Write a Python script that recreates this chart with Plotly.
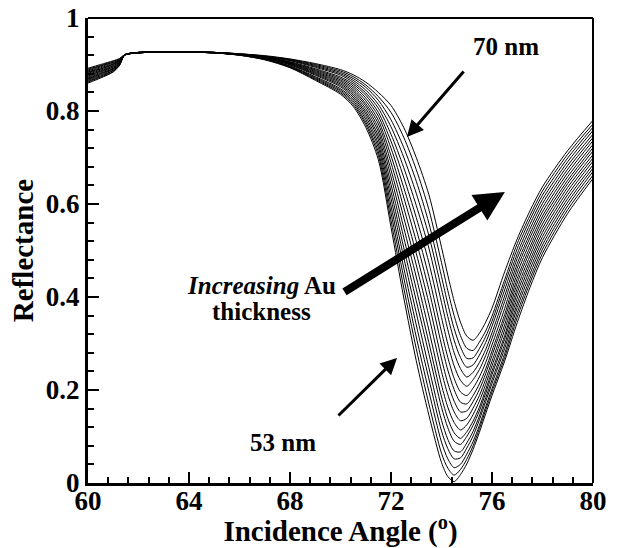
import plotly.graph_objects as go

# Incidence angles (deg) at which reflectance values were read
angles = [60, 60.5, 61, 61.25, 61.45, 62, 63.5, 65, 66, 67, 68, 69, 70, 70.5, 71, 71.5,
          72, 72.5, 73, 73.5, 74, 74.25, 74.5, 74.75, 75, 75.25, 75.5, 75.75, 76, 76.5,
          77, 77.5, 78, 79, 80]

# Au thickness (nm)
thickness = list(range(53, 71))

r53 = [.860, .871, .884, .898, .920, .925, .927, .925, .920, .910, .893, .866, .836, .810, .765, .695, .550, .400, .263,
       .146, .044, .014, .003, .018, .041, .072, .109, .149, .188, .262, .345, .420, .485, .580, .655]
r54 = [.862, .873, .885, .899, .920, .925, .927, .925, .920, .911, .894, .868, .839, .814, .771, .704, .565, .421, .289,
       .170, .064, .032, .017, .029, .051, .080, .117, .157, .196, .270, .356, .430, .494, .588, .662]
r55 = [.864, .874, .887, .899, .920, .925, .927, .925, .920, .911, .895, .870, .842, .818, .776, .712, .581, .443, .314,
       .197, .088, .052, .033, .040, .062, .089, .124, .164, .203, .278, .366, .439, .503, .596, .670]
r56 = [.866, .876, .888, .900, .920, .925, .927, .925, .921, .912, .896, .872, .845, .822, .782, .721, .596, .464, .340,
       .224, .112, .074, .052, .054, .075, .101, .136, .175, .214, .289, .377, .449, .512, .604, .677]
r57 = [.868, .878, .890, .901, .920, .925, .927, .925, .921, .912, .897, .874, .848, .826, .788, .729, .612, .486, .366,
       .248, .135, .094, .069, .067, .086, .111, .144, .183, .222, .298, .387, .459, .521, .612, .684]
r58 = [.869, .880, .891, .902, .920, .925, .927, .925, .921, .913, .899, .877, .852, .830, .794, .738, .627, .507, .392,
       .278, .163, .119, .090, .083, .100, .124, .155, .193, .233, .309, .398, .469, .530, .620, .692]
r59 = [.871, .881, .892, .903, .920, .925, .927, .925, .921, .913, .900, .879, .855, .834, .799, .746, .642, .529, .417,
       .302, .185, .139, .108, .096, .110, .133, .163, .201, .241, .317, .409, .478, .539, .628, .699]
r60 = [.873, .883, .894, .904, .920, .925, .927, .925, .921, .914, .901, .881, .858, .838, .805, .755, .658, .550, .443,
       .329, .211, .163, .130, .114, .125, .147, .176, .212, .252, .329, .419, .488, .548, .636, .706]
r61 = [.875, .885, .895, .905, .920, .925, .927, .925, .921, .914, .902, .883, .861, .842, .811, .763, .673, .572, .469,
       .359, .240, .190, .153, .134, .139, .161, .188, .223, .262, .340, .430, .498, .557, .644, .714]
r62 = [.877, .886, .897, .906, .921, .926, .927, .926, .922, .915, .903, .885, .864, .846, .816, .772, .689, .593, .494,
       .387, .267, .215, .176, .153, .155, .175, .201, .235, .274, .352, .440, .507, .566, .651, .721]
r63 = [.879, .888, .898, .907, .921, .926, .927, .926, .922, .915, .904, .887, .867, .850, .822, .780, .704, .615, .520,
       .416, .297, .243, .201, .174, .170, .188, .213, .245, .284, .362, .451, .517, .574, .659, .728]
r64 = [.881, .890, .900, .908, .921, .926, .927, .926, .922, .916, .905, .889, .870, .854, .828, .789, .720, .636, .546,
       .444, .325, .270, .225, .196, .188, .204, .228, .259, .297, .375, .462, .527, .583, .667, .736]
r65 = [.883, .891, .901, .909, .921, .926, .927, .926, .922, .916, .906, .891, .873, .858, .834, .797, .735, .658, .571,
       .474, .356, .299, .252, .221, .208, .222, .244, .274, .311, .390, .472, .536, .592, .675, .743]
r66 = [.884, .893, .902, .909, .921, .926, .927, .926, .922, .917, .908, .894, .877, .862, .839, .806, .750, .679, .597,
       .505, .388, .330, .280, .246, .228, .238, .259, .287, .323, .402, .483, .546, .601, .683, .750]
r67 = [.886, .895, .904, .910, .921, .926, .927, .926, .922, .917, .909, .896, .880, .866, .845, .814, .766, .701, .623,
       .532, .417, .358, .307, .270, .249, .254, .275, .302, .337, .415, .493, .556, .610, .691, .758]
r68 = [.888, .897, .905, .911, .921, .926, .927, .926, .923, .918, .910, .898, .883, .870, .851, .823, .781, .722, .649,
       .559, .444, .385, .332, .293, .268, .269, .289, .315, .348, .427, .504, .566, .619, .699, .765]
r69 = [.890, .898, .907, .912, .921, .926, .927, .926, .923, .918, .911, .900, .886, .874, .856, .831, .797, .744, .674,
       .588, .474, .414, .360, .317, .290, .285, .303, .327, .359, .437, .515, .575, .628, .707, .772]
r70 = [.892, .900, .908, .913, .921, .926, .927, .926, .923, .919, .912, .902, .889, .878, .862, .840, .812, .765, .700,
       .620, .507, .447, .391, .346, .316, .307, .322, .346, .376, .454, .525, .585, .637, .715, .780]

series = [r53, r54, r55, r56, r57, r58, r59, r60, r61, r62, r63, r64, r65, r66, r67, r68, r69, r70]

FONT = "Liberation Serif"

fig = go.Figure()
for t, r in zip(thickness, series):
    fig.add_trace(go.Scatter(x=angles, y=r, mode="lines", name=f"{t} nm",
                             line=dict(color="black", width=1, shape="spline", smoothing=0.8),
                             showlegend=False, hoverinfo="skip"))

axis_common = dict(showgrid=False, zeroline=False, showline=True, linecolor="black", linewidth=3,
                   ticks="inside", tickcolor="black", tickwidth=2, ticklen=11, automargin=False,
                   tickfont=dict(family=FONT, size=27, color="black", weight="bold"))

fig.update_xaxes(range=[60, 80], tick0=60, dtick=4,
                 minor=dict(ticks="inside", dtick=0.8, ticklen=6, tickwidth=1.5, tickcolor="black"),
                 title=dict(text="Incidence Angle (<sup>o</sup>)",
                            font=dict(family=FONT, size=29, color="black", weight="bold"), standoff=0),
                 ticklabelstandoff=-8,
                 **axis_common)
fig.update_yaxes(range=[0, 1], tick0=0, dtick=0.2,
                 minor=dict(ticks="inside", dtick=0.04, ticklen=6, tickwidth=1.5, tickcolor="black"),
                 title=dict(text="Reflectance",
                            font=dict(family=FONT, size=29, color="black", weight="bold"), standoff=4),
                 **axis_common)

# top and right frame lines (thinner)
fig.add_shape(type="line", xref="paper", yref="paper", x0=0, x1=1, y0=1, y1=1,
              line=dict(color="black", width=2))
fig.add_shape(type="line", xref="paper", yref="paper", x0=1, x1=1, y0=0, y1=1,
              line=dict(color="black", width=2))

ann_font = dict(family=FONT, size=25, color="black", weight="bold")
fig.add_annotation(x=72.63, y=0.744, ax=74.93, ay=0.888, axref="x", ayref="y",
                   showarrow=True, arrowhead=2, arrowwidth=3, arrowsize=1.1, arrowcolor="black", text="")
fig.add_annotation(x=76.55, y=0.938, text="70 nm", showarrow=False, font=ann_font)

fig.add_annotation(x=72.24, y=0.269, ax=69.86, ay=0.142, axref="x", ayref="y",
                   showarrow=True, arrowhead=2, arrowwidth=3, arrowsize=1.1, arrowcolor="black", text="")
fig.add_annotation(x=67.72, y=0.088, text="53 nm", showarrow=False, font=ann_font)

fig.add_annotation(x=76.51, y=0.626, ax=70.10, ay=0.409, axref="x", ayref="y",
                   showarrow=True, arrowhead=2, arrowwidth=8, arrowsize=0.75, arrowcolor="black", text="")
fig.add_annotation(x=66.89, y=0.425, text="<i>Increasing</i> Au",
                   showarrow=False, font=ann_font)
fig.add_annotation(x=66.89, y=0.368, text="thickness",
                   showarrow=False, font=ann_font)

fig.update_layout(width=621, height=548, margin=dict(l=88, r=28, t=18, b=65),
                  plot_bgcolor="white", paper_bgcolor="white")

fig.write_html("out.html")
